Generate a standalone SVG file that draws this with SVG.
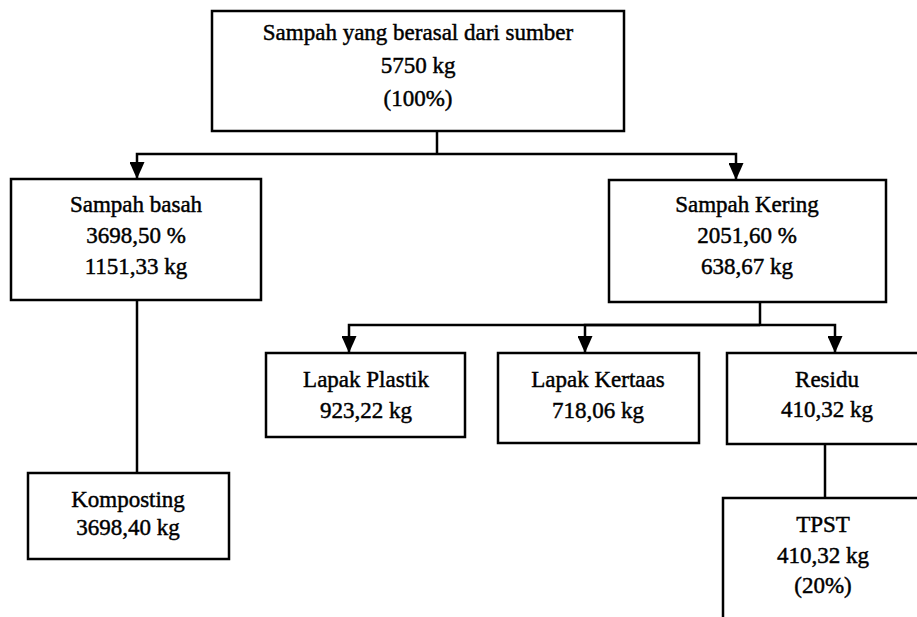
<svg xmlns="http://www.w3.org/2000/svg" width="917" height="617" viewBox="0 0 917 617">
<style>
.box{fill:#fff;stroke:#000;stroke-width:2.5}
.t{font-family:"Liberation Serif","Times New Roman",serif;font-size:23px;fill:#000;stroke:#000;stroke-width:0.45;text-anchor:middle}
.c{fill:none;stroke:#000;stroke-width:2.5}
.a{marker-end:url(#arr)}
</style>
<defs>
<marker id="arr" markerUnits="userSpaceOnUse" markerWidth="17" markerHeight="15" viewBox="0 0 17 15" refX="17" refY="7.5" orient="auto">
<path d="M0,0 L17,7.5 L0,15 z" fill="#000"/>
</marker>
</defs>
<rect width="917" height="617" fill="#fff"/>
<g id="connectors">
<path class="c" d="M437,131 V154"/>
<path class="c a" d="M437,154 H137 V179"/>
<path class="c a" d="M437,154 H736 V180"/>
<path class="c" d="M137,300 V473"/>
<path class="c" d="M760,302 V325"/>
<path class="c a" d="M760,325 H349 V353"/>
<path class="c a" d="M760,325 H585 V353"/>
<path class="c a" d="M760,325 H835 V353"/>
<path class="c" d="M825,444 V498"/>
</g>
<g id="sumber">
<rect class="box" x="212" y="11" width="412" height="120"/>
<text class="t" x="418" y="40">Sampah yang berasal dari sumber</text>
<text class="t" x="418" y="73">5750 kg</text>
<text class="t" x="418" y="106">(100%)</text>
</g>
<g id="basah">
<rect class="box" x="11" y="179" width="250" height="121"/>
<text class="t" x="136" y="212">Sampah basah</text>
<text class="t" x="136" y="243">3698,50 %</text>
<text class="t" x="136" y="274">1151,33 kg</text>
</g>
<g id="kering">
<rect class="box" x="609" y="180" width="277" height="122"/>
<text class="t" x="747" y="212">Sampah Kering</text>
<text class="t" x="747" y="243">2051,60 %</text>
<text class="t" x="747" y="274">638,67 kg</text>
</g>
<g id="komposting">
<rect class="box" x="28" y="473" width="201" height="86"/>
<text class="t" x="128" y="507">Komposting</text>
<text class="t" x="128" y="535">3698,40 kg</text>
</g>
<g id="plastik">
<rect class="box" x="266" y="353" width="199" height="84"/>
<text class="t" x="366" y="387">Lapak Plastik</text>
<text class="t" x="366" y="418">923,22 kg</text>
</g>
<g id="kertas">
<rect class="box" x="498" y="353" width="201" height="90"/>
<text class="t" x="598" y="387">Lapak Kertaas</text>
<text class="t" x="598" y="418">718,06 kg</text>
</g>
<g id="residu">
<rect class="box" x="727" y="353" width="210" height="91"/>
<text class="t" x="827" y="387">Residu</text>
<text class="t" x="827" y="417">410,32 kg</text>
</g>
<g id="tpst">
<rect class="box" x="723" y="498" width="220" height="140"/>
<text class="t" x="823" y="532">TPST</text>
<text class="t" x="823" y="563">410,32 kg</text>
<text class="t" x="823" y="593">(20%)</text>
</g>
</svg>
